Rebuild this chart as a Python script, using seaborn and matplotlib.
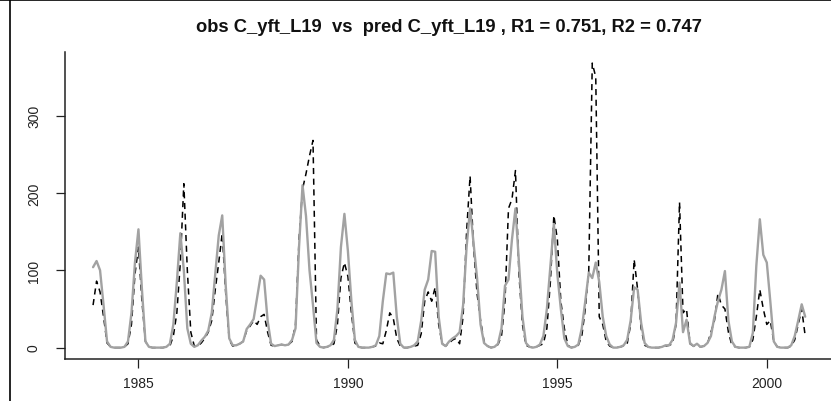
import numpy as np
import pandas as pd
import matplotlib
matplotlib.use("Agg")
import matplotlib.pyplot as plt
import seaborn as sns
from matplotlib.lines import Line2D

# ---- data (monthly, first point Dec 1983) ----
start_year = 1983 + 11 / 12
obs = [
    55, 86, 72, 40, 6, 1, 0, 0, 0, 1, 5, 30,
    95, 130, 60, 8, 1, 0, 0, 0, 0, 1, 2, 15,
    45, 110, 212, 100, 20, 2, 2, 6, 12, 20, 35, 75,
    110, 148, 70, 10, 2, 3, 5, 8, 22, 28, 35, 30,
    40, 43, 20, 3, 2, 3, 4, 3, 4, 8, 30, 140,
    205, 225, 248, 268, 10, 2, 0, 1, 2, 5, 30, 90,
    110, 92, 45, 6, 1, 0, 0, 0, 1, 2, 6, 5,
    22, 45, 38, 12, 2, 0, 0, 1, 2, 3, 18, 60,
    72, 60, 78, 30, 5, 2, 6, 10, 12, 5, 40, 150,
    222, 130, 70, 35, 8, 2, 0, 1, 4, 15, 60, 180,
    192, 229, 95, 30, 3, 1, 0, 1, 3, 5, 25, 85,
    171, 140, 60, 25, 3, 0, 1, 3, 15, 50, 100, 368,
    350, 40, 30, 8, 2, 0, 0, 1, 2, 5, 30, 114,
    75, 25, 3, 1, 0, 0, 0, 1, 2, 3, 5, 30,
    188, 45, 50, 5, 2, 3, 1, 2, 5, 20, 35, 70,
    55, 50, 20, 3, 1, 0, 0, 0, 1, 10, 40, 75,
    50, 30, 35, 8, 1, 0, 0, 0, 2, 10, 30, 50, 15,
]
pred = [
    104, 112, 100, 55, 8, 1, 0, 0, 0, 1, 8, 45,
    110, 153, 75, 8, 1, 0, 0, 0, 0, 1, 5, 30,
    85, 148, 100, 25, 5, 1, 3, 9, 14, 22, 45, 95,
    145, 171, 80, 12, 3, 3, 5, 8, 24, 30, 37, 65,
    93, 88, 35, 5, 2, 3, 4, 3, 4, 10, 25, 130,
    210, 170, 100, 55, 6, 1, 0, 1, 3, 10, 50, 130,
    173, 125, 60, 10, 1, 0, 0, 0, 1, 3, 15, 60,
    96, 95, 97, 40, 5, 0, 0, 1, 3, 8, 35, 75,
    88, 125, 124, 40, 5, 2, 8, 12, 15, 20, 55, 130,
    180, 135, 90, 30, 6, 2, 0, 1, 5, 25, 80, 88,
    140, 180, 110, 40, 6, 1, 0, 1, 4, 15, 50, 105,
    160, 95, 50, 12, 2, 0, 1, 4, 25, 60, 97, 90,
    110, 85, 40, 15, 4, 0, 0, 1, 3, 10, 35, 78,
    75, 32, 6, 1, 0, 0, 0, 1, 3, 3, 10, 32,
    84, 20, 36, 6, 2, 5, 1, 2, 6, 15, 40, 60,
    75, 99, 35, 8, 1, 0, 0, 0, 1, 19, 106, 166,
    120, 110, 60, 8, 1, 0, 0, 0, 3, 15, 35, 56, 40,
]
x_ticks = [1985, 1990, 1995, 2000]
y_ticks = [0, 100, 200, 300]
title = "obs C_yft_L19  vs  pred C_yft_L19 , R1 = 0.751, R2 = 0.747"

n = len(obs)
time = start_year + np.arange(n) / 12
df = pd.DataFrame({"time": time, "obs": obs, "pred": pred})

sns.set_theme(style="ticks")
plt.rcParams["font.family"] = ["Liberation Sans Narrow", "Liberation Sans", "DejaVu Sans"]

W, H = 831, 402
fig = plt.figure(figsize=(W / 100, H / 100), dpi=100)
left, right, top, bottom = 64.6, 833.7, 52.7, 360.0
ax = fig.add_axes([left / W, 1 - bottom / H, (right - left) / W, (bottom - top) / H])

sns.lineplot(data=df, x="time", y="obs", ax=ax, color="black", lw=1.1,
             linestyle=(0, (4, 3)), clip_on=False)
sns.lineplot(data=df, x="time", y="pred", ax=ax, color="#a2a2a2", lw=1.7)

ax.set_xlim(1983.237, 2001.597)
ax.set_ylim(-14.72, 382.72)
ax.set_xticks(x_ticks)
ax.set_yticks(y_ticks)
ax.set_xticklabels([str(v) for v in x_ticks], fontsize=10, color="#222222")
ax.set_yticklabels([str(v) for v in y_ticks], fontsize=10, color="#222222",
                   rotation=90, va="center")
ax.tick_params(axis="both", direction="out", length=6.5, width=0.9, color="#222222")
ax.tick_params(axis="x", pad=6)
ax.tick_params(axis="y", pad=10.5)
ax.set_xlabel("")
ax.set_ylabel("")
for s in ["top", "right"]:
    ax.spines[s].set_visible(False)
for s in ["left", "bottom"]:
    ax.spines[s].set_linewidth(1.1)
    ax.spines[s].set_color("#222222")

fig.text((left + right) / 2 / W, 1 - 28 / H, title, ha="center", va="center",
         fontsize=13.2, fontweight="bold", color="#111111")

# outer frame lines of the original screenshot
fig.add_artist(Line2D([9.5 / W, 9.5 / W], [0, 1], transform=fig.transFigure,
                      color="black", lw=1.2))
fig.add_artist(Line2D([0, 1], [1 - 1 / H, 1 - 1 / H], transform=fig.transFigure,
                      color="black", lw=1.2))

fig.savefig("out.png", dpi=100)
